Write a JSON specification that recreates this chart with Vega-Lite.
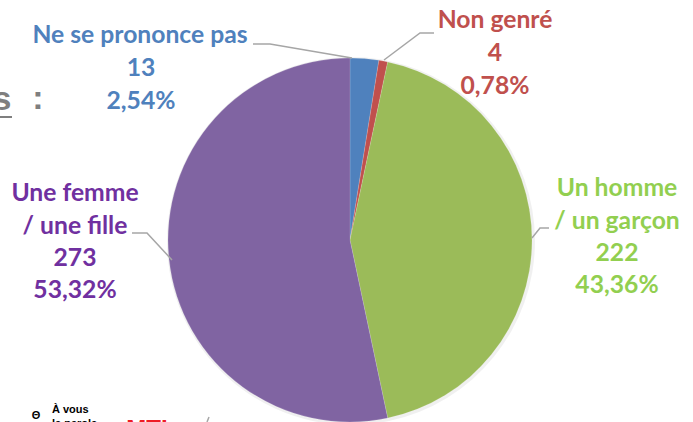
{"$schema":"https://vega.github.io/schema/vega-lite/v6.json","width":693,"height":422,"padding":0,"autosize":{"type":"none"},"background":"white","view":{"stroke":null},
"datasets":{
"slices":[{"genre":"Ne se prononce pas","n":13,"o":1},{"genre":"Non genré","n":4,"o":2},{"genre":"Un homme / un garçon","n":222,"o":3},{"genre":"Une femme / une fille","n":273,"o":4}],
"labels":[
{"t":"Ne se prononce pas","px":140,"py":36,"genre":"Ne se prononce pas"},{"t":"13","px":141,"py":69,"genre":"Ne se prononce pas"},{"t":"2,54%","px":141,"py":102,"genre":"Ne se prononce pas"},
{"t":"Non genré","px":495,"py":21,"genre":"Non genré"},{"t":"4","px":495,"py":54,"genre":"Non genré"},{"t":"0,78%","px":495,"py":87,"genre":"Non genré"},
{"t":"Un homme","px":617,"py":189,"genre":"Un homme / un garçon"},{"t":"/ un garçon","px":617,"py":222,"genre":"Un homme / un garçon"},{"t":"222","px":617,"py":254,"genre":"Un homme / un garçon"},{"t":"43,36%","px":617,"py":286,"genre":"Un homme / un garçon"},
{"t":"Une femme","px":75,"py":194,"genre":"Une femme / une fille"},{"t":"/ une fille","px":75,"py":227,"genre":"Une femme / une fille"},{"t":"273","px":75,"py":259,"genre":"Une femme / une fille"},{"t":"53,32%","px":75,"py":291,"genre":"Une femme / une fille"}],
"leaders":[
{"g":"a","s":1,"px":253,"py":44},{"g":"a","s":2,"px":270,"py":44},{"g":"a","s":3,"px":352,"py":58},
{"g":"b","s":1,"px":434,"py":33},{"g":"b","s":2,"px":420,"py":33},{"g":"b","s":3,"px":384,"py":60},
{"g":"c","s":1,"px":549,"py":228},{"g":"c","s":2,"px":540,"py":228},{"g":"c","s":3,"px":532,"py":238},
{"g":"d","s":1,"px":132,"py":233},{"g":"d","s":2,"px":147,"py":233},{"g":"d","s":3,"px":172,"py":260},
{"g":"e","s":1,"px":207,"py":422},{"g":"e","s":2,"px":209,"py":417}]
},
"layer":[
{"data":{"name":"slices"},"mark":{"type":"arc","radius":184,"fill":"#000000","fillOpacity":0.06,"stroke":null},"encoding":{"x":{"datum":351,"type":"quantitative","scale":{"domain":[0,693],"range":[0,693]},"axis":null},"y":{"datum":241,"type":"quantitative","scale":{"domain":[0,422],"range":[0,422]},"axis":null},"theta":{"field":"n","type":"quantitative","stack":true},"order":{"field":"o"}}},
{"data":{"name":"slices"},"mark":{"type":"arc","radius":182,"stroke":"#ffffff","strokeWidth":0.4,"strokeOpacity":0.35},"encoding":{"x":{"datum":350,"type":"quantitative","scale":{"domain":[0,693],"range":[0,693]},"axis":null},"y":{"datum":240,"type":"quantitative","scale":{"domain":[0,422],"range":[0,422]},"axis":null},"theta":{"field":"n","type":"quantitative","stack":true},"order":{"field":"o"},"fill":{"field":"genre","type":"nominal","legend":null,"sort":null,"scale":{"domain":["Ne se prononce pas","Non genré","Un homme / un garçon","Une femme / une fille"],"range":["#4f81bd","#c0504d","#9bbb59","#8064a2"]}}}},
{"data":{"name":"leaders"},"mark":{"type":"line","color":"#a6a6a6","strokeWidth":1.5},"encoding":{"x":{"field":"px","type":"quantitative","scale":{"domain":[0,693],"range":[0,693]},"axis":null},"y":{"field":"py","type":"quantitative","scale":{"domain":[0,422],"range":[0,422]},"axis":null},"detail":{"field":"g"},"order":{"field":"s"}}},
{"data":{"name":"labels"},"mark":{"type":"text","font":"Lato","fontWeight":"bold","fontSize":24.7,"baseline":"middle","align":"center"},"encoding":{"x":{"field":"px","type":"quantitative","scale":{"domain":[0,693],"range":[0,693]},"axis":null},"y":{"field":"py","type":"quantitative","scale":{"domain":[0,422],"range":[0,422]},"axis":null},"text":{"field":"t"},"color":{"field":"genre","type":"nominal","legend":null,"scale":{"domain":["Ne se prononce pas","Non genré","Un homme / un garçon","Une femme / une fille"],"range":["#4f81bd","#c0504d","#92cf50","#7030a0"]}}}},
{"data":{"values":[{"t":"s","px":2,"py":100},{"t":":","px":38,"py":99}]},"mark":{"type":"text","font":"Liberation Sans","fontWeight":"bold","fontSize":34,"baseline":"middle","align":"center","color":"#7f7f7f"},"encoding":{"x":{"field":"px","type":"quantitative","scale":{"domain":[0,693],"range":[0,693]},"axis":null},"y":{"field":"py","type":"quantitative","scale":{"domain":[0,422],"range":[0,422]},"axis":null},"text":{"field":"t"}}},
{"data":{"values":[{"g":"u","px":0,"py":117},{"g":"u","px":12,"py":117}]},"mark":{"type":"line","color":"#7f7f7f","strokeWidth":2},"encoding":{"x":{"field":"px","type":"quantitative","scale":{"domain":[0,693],"range":[0,693]},"axis":null},"y":{"field":"py","type":"quantitative","scale":{"domain":[0,422],"range":[0,422]},"axis":null},"detail":{"field":"g"}}},
{"data":{"values":[{"t":"À vous","px":52,"py":410},{"t":"la parole","px":52,"py":424}]},"mark":{"type":"text","font":"Liberation Sans","fontWeight":"bold","fontSize":11,"baseline":"middle","align":"left","color":"#000000"},"encoding":{"x":{"field":"px","type":"quantitative","scale":{"domain":[0,693],"range":[0,693]},"axis":null},"y":{"field":"py","type":"quantitative","scale":{"domain":[0,422],"range":[0,422]},"axis":null},"text":{"field":"t"}}},
{"data":{"values":[{"t":"Θ","px":36,"py":416}]},"mark":{"type":"text","font":"Liberation Sans","fontWeight":"bold","fontSize":11,"baseline":"middle","align":"center","color":"#000000"},"encoding":{"x":{"field":"px","type":"quantitative","scale":{"domain":[0,693],"range":[0,693]},"axis":null},"y":{"field":"py","type":"quantitative","scale":{"domain":[0,422],"range":[0,422]},"axis":null},"text":{"field":"t"}}},
{"data":{"values":[{"t":"MTL","px":151,"py":430}]},"mark":{"type":"text","font":"Liberation Sans","fontWeight":"bold","fontSize":24,"baseline":"middle","align":"center","color":"#ee1c25"},"encoding":{"x":{"field":"px","type":"quantitative","scale":{"domain":[0,693],"range":[0,693]},"axis":null},"y":{"field":"py","type":"quantitative","scale":{"domain":[0,422],"range":[0,422]},"axis":null},"text":{"field":"t"}}}
],
"resolve":{"scale":{"color":"independent"}}}
